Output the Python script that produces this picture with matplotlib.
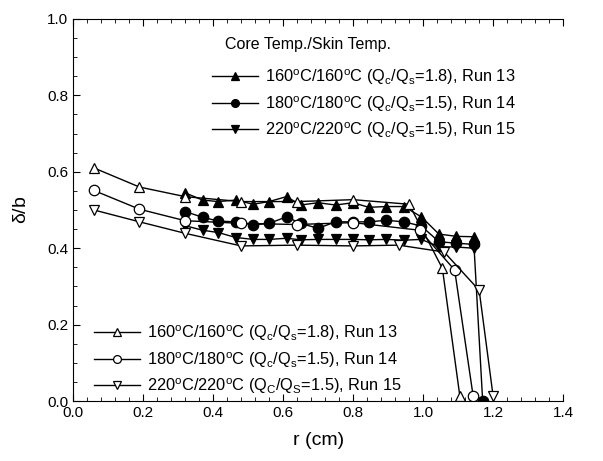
import matplotlib
matplotlib.use("Agg")
from matplotlib import pyplot as plt
from matplotlib.ticker import MultipleLocator

plt.rcParams['font.family'] = ['Liberation Sans', 'DejaVu Sans']
plt.rcParams['mathtext.fontset'] = 'custom'
plt.rcParams['mathtext.rm'] = 'Liberation Sans'
plt.rcParams['mathtext.it'] = 'Liberation Sans'

# open symbols
r13_open = [0.06, 0.19, 0.32, 0.48, 0.64, 0.80, 0.96, 1.055, 1.105]
d13_open = [0.61, 0.56, 0.535, 0.522, 0.522, 0.527, 0.515, 0.347, 0.012]
r14_open = [0.06, 0.19, 0.32, 0.48, 0.64, 0.80, 0.99, 1.09, 1.143]
d14_open = [0.551, 0.502, 0.472, 0.465, 0.462, 0.467, 0.447, 0.343, 0.012]
r15_open = [0.06, 0.19, 0.32, 0.48, 0.64, 0.80, 0.93, 1.06, 1.16, 1.20]
d15_open = [0.50, 0.469, 0.439, 0.406, 0.408, 0.406, 0.408, 0.39, 0.29, 0.012]

# filled symbols
r_filled = [0.32, 0.37, 0.415, 0.465, 0.515, 0.56, 0.61, 0.65, 0.70, 0.75,
            0.80, 0.845, 0.895, 0.945, 0.995, 1.045, 1.095, 1.145]
d13_fill = [0.545, 0.526, 0.522, 0.526, 0.515, 0.522, 0.535, 0.513, 0.519, 0.513,
            0.519, 0.507, 0.509, 0.509, 0.482, 0.437, 0.431, 0.43]
d14_fill = [0.496, 0.481, 0.471, 0.469, 0.461, 0.465, 0.482, 0.465, 0.452, 0.469,
            0.469, 0.469, 0.473, 0.469, 0.458, 0.417, 0.413, 0.41]
d15_fill = [0.459, 0.447, 0.441, 0.428, 0.423, 0.423, 0.426, 0.422, 0.423, 0.423,
            0.423, 0.422, 0.423, 0.421, 0.423, 0.404, 0.403, 0.40]
r14_fill = r_filled + [1.17]
d14_fill = d14_fill + [0.0]

lab13 = r'160$^{\rm o}$C/160$^{\rm o}$C (Q$_{\rm c}$/Q$_{\rm s}$=1.8), Run 13'
lab14 = r'180$^{\rm o}$C/180$^{\rm o}$C (Q$_{\rm c}$/Q$_{\rm s}$=1.5), Run 14'
lab15 = r'220$^{\rm o}$C/220$^{\rm o}$C (Q$_{\rm c}$/Q$_{\rm s}$=1.5), Run 15'
lab15b = r'220$^{\rm o}$C/220$^{\rm o}$C (Q$_{\rm C}$/Q$_{\rm S}$=1.5), Run 15'

fig = plt.figure(figsize=(6.03, 4.61), dpi=100)
ax = fig.add_axes([0.121, 0.130, 0.813, 0.829])

kw = dict(color='black', lw=1.0, ms=7.5, mec='black', mew=0.9)
f13, = ax.plot(r_filled, d13_fill, marker='^', mfc='black', **kw)
f14, = ax.plot(r14_fill, d14_fill, marker='o', mfc='black', **kw)
f15, = ax.plot(r_filled, d15_fill, marker='v', mfc='black', **kw)
o13, = ax.plot(r13_open, d13_open, marker='^', mfc='white', **kw)
o14, = ax.plot(r14_open, d14_open, marker='o', mfc='white', **kw)
o15, = ax.plot(r15_open, d15_open, marker='v', mfc='white', **kw)

ax.set_xlim(0, 1.4)
ax.set_ylim(0, 1.0)
ax.xaxis.set_major_locator(MultipleLocator(0.2))
ax.xaxis.set_minor_locator(MultipleLocator(0.04))
ax.yaxis.set_major_locator(MultipleLocator(0.2))
ax.yaxis.set_minor_locator(MultipleLocator(0.05))
ax.xaxis.set_major_formatter('{x:.1f}')
ax.yaxis.set_major_formatter('{x:.1f}')
ax.tick_params(which='both', direction='in', top=True, right=False, labelsize=11)
ax.tick_params(which='major', length=5, width=0.8)
ax.tick_params(which='minor', length=3, width=0.6)
ax.spines['right'].set_visible(False)

ax.set_xlabel('r (cm)', fontsize=14, labelpad=9)
ax.set_ylabel(r'$\delta$/b', fontsize=14, labelpad=12)

ax.text(0.31, 0.932, 'Core Temp./Skin Temp.', transform=ax.transAxes,
        fontsize=11.5, va='center', ha='left')
leg1 = ax.legend([f13, f14, f15], [lab13, lab14, lab15], loc='upper left',
                 bbox_to_anchor=(0.27, 0.89), frameon=False, fontsize=11.8,
                 handlelength=2.8, handletextpad=0.45, labelspacing=0.42,
                 borderaxespad=0, markerscale=0.75)
ax.add_artist(leg1)
ax.legend([o13, o14, o15], [lab13, lab14, lab15b], loc='upper left',
          bbox_to_anchor=(0.03, 0.22), frameon=False, fontsize=11.8,
          handlelength=2.8, handletextpad=0.45, labelspacing=0.42,
          borderaxespad=0, markerscale=0.75)

fig.savefig('out.png', dpi=100)
